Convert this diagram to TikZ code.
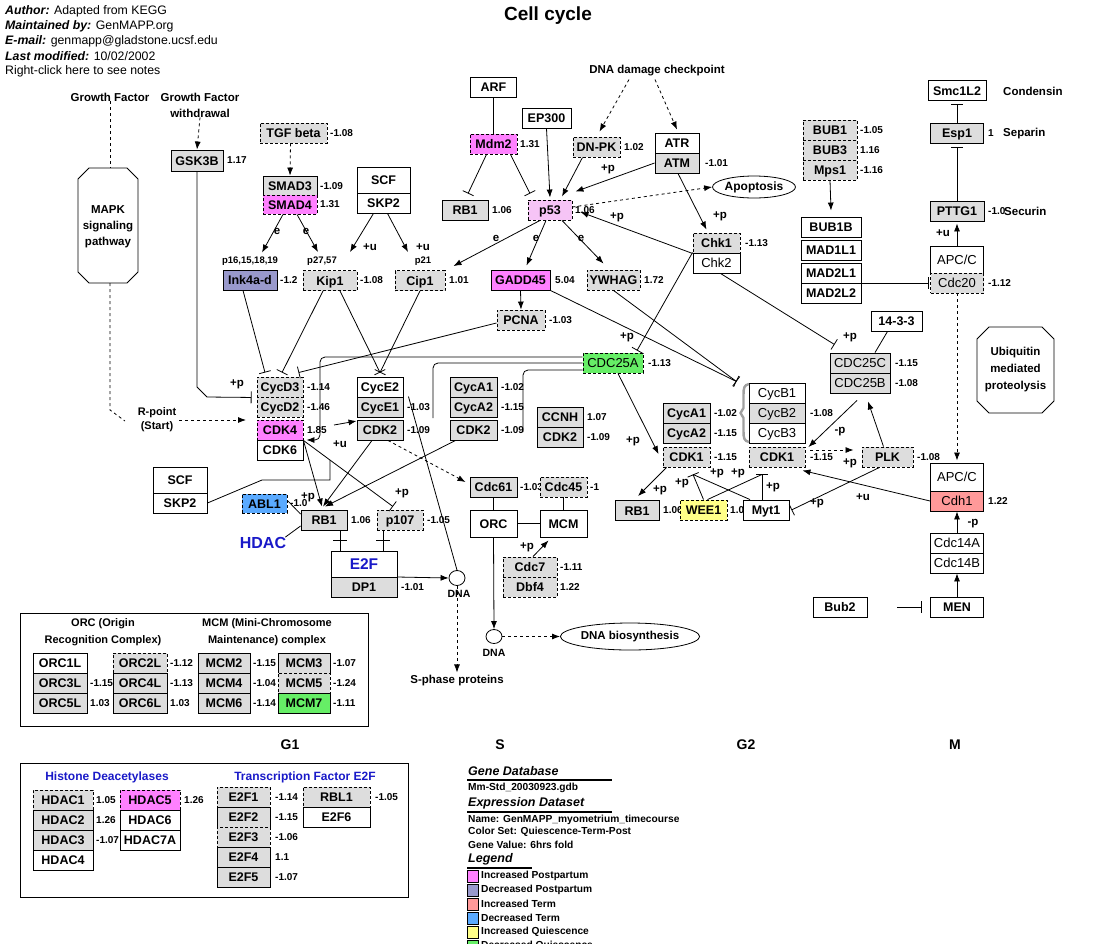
\documentclass[tikz,border=0pt]{standalone}
\usepackage{fontspec}
\setmainfont{Liberation Sans}
\usetikzlibrary{arrows.meta,shapes.geometric}
\definecolor{gfill}{RGB}{221,221,221}
\definecolor{mag}{RGB}{255,128,255}
\definecolor{pk}{RGB}{246,196,246}
\definecolor{pur}{RGB}{153,153,204}
\definecolor{salm}{RGB}{255,153,153}
\definecolor{blu}{RGB}{90,170,255}
\definecolor{yel}{RGB}{255,255,136}
\definecolor{grn}{RGB}{102,238,102}
\definecolor{hblue}{RGB}{25,25,200}
\definecolor{brk}{RGB}{160,160,160}
\newcommand{\GeneFont}{\fontsize{12.5}{14}\selectfont\bfseries}
\newcommand{\GeneReg}{\fontsize{13}{14}\selectfont\mdseries}
\newcommand{\ValFont}{\fontsize{10}{11}\selectfont\bfseries}
\newcommand{\LabFont}{\fontsize{11.5}{16}\selectfont\bfseries}
\newcommand{\SmallLab}{\fontsize{9.5}{11}\selectfont\bfseries}
\newcommand{\HeadFont}{\fontsize{12.3}{14}\selectfont}
\newcommand{\GrpFont}{\fontsize{11}{17}\selectfont\bfseries}
\newcommand{\BlueHead}{\fontsize{12}{14}\selectfont\bfseries}
\newcommand{\LegHead}{\fontsize{12.5}{14}\selectfont\bfseries\itshape}
\newcommand{\LegText}{\fontsize{10.2}{11}\selectfont\bfseries}
\newcommand{\PhaseFont}{\fontsize{14}{16}\selectfont\bfseries}
\tikzset{
  gb/.style={draw=black, line width=0.9pt, fill=gfill, inner sep=0pt, minimum height=20pt, text height=9pt, text depth=0pt, font=\GeneFont},
  wb/.style={gb, fill=white},
  dsh/.style={dash pattern=on 3pt off 2pt},
  rg/.style={font=\GeneReg},
  val/.style={font=\ValFont, anchor=west, inner sep=0pt},
  plab/.style={font=\LabFont, inner sep=0pt},
  con/.style={line width=0.8pt},
  act/.style={con, -{Latex[length=8pt,width=6pt]}},
  inh/.style={con, -{Bar[width=12pt]}},
  dact/.style={act, dash pattern=on 3pt off 3pt},
  dline/.style={con, dash pattern=on 3pt off 3pt},
  legsq/.style={draw=black, line width=0.8pt, minimum width=11pt, minimum height=12pt, inner sep=0pt},
}
\begin{document}
\begin{tikzpicture}[x=1pt,y=-1pt]
\useasboundingbox[fill=white] (0,0) rectangle (1094,943);

% ---------------- header ----------------
\node[anchor=west,font=\HeadFont,inner sep=0pt] (h1) at (5,11) {\textbf{\textit{Author:}} Adapted from KEGG};
\node[anchor=west,font=\HeadFont,inner sep=0pt] (h2) at (5,26) {\textbf{\textit{Maintained by:}} GenMAPP.org};
\node[anchor=west,font=\HeadFont,inner sep=0pt] (h3) at (5,41) {\textbf{\textit{E-mail:}} genmapp@gladstone.ucsf.edu};
\node[anchor=west,font=\HeadFont,inner sep=0pt] (h4) at (5,56) {\textbf{\textit{Last modified:}} 10/02/2002};
\node[anchor=west,font=\HeadFont,inner sep=0pt] (h5) at (5,71) {Right-click here to see notes};
\node[font=\fontsize{19}{22}\selectfont\bfseries] (title) at (548,16) {Cell cycle};

% ---------------- top-left ----------------
\node[plab] (gf) at (110,97) {Growth Factor};
\node[plab,align=center] (gfw) at (200,105) {Growth Factor\\withdrawal};
\draw[line width=0.9pt] (78,179) -- (89,168) -- (127,168) -- (138,179) -- (138,272) -- (127,283) -- (89,283) -- (78,272) -- cycle;
\node[plab,align=center] (mapk) at (108,227) {MAPK\\signaling\\pathway};
\coordinate (mapkN) at (110,168);
\coordinate (mapkS) at (110,283);
\node[plab,align=center,font=\fontsize{11}{14}\selectfont\bfseries] (rpoint) at (157,420) {R-point\\(Start)};
\coordinate (rpEnd) at (246,420);

\node[gb,minimum width=52pt,minimum height=21pt] (gsk) at (197,160.5) {GSK3B};
\node[val] at (227,160.5) {1.17};
\node[gb,dsh,minimum width=67pt] (tgf) at (293.5,133) {TGF beta};
\node[val] at (330,133) {-1.08};
\node[gb,minimum width=54pt,minimum height=19pt] (smad3) at (290,185.5) {SMAD3};
\node[gb,dsh,fill=mag,minimum width=54pt,minimum height=19pt] (smad4) at (290,204.5) {SMAD4};
\node[val] at (320,186) {-1.09};
\node[val] at (320,204.5) {1.31};
\node[wb,minimum width=53pt,minimum height=26pt] (scf1) at (383.5,180) {SCF};
\node[wb,minimum width=53pt] (skp2a) at (383.5,203) {SKP2};
\node[font=\SmallLab] at (250,261) {p16,15,18,19};
\node[font=\SmallLab] at (322,261) {p27,57};
\node[font=\SmallLab] at (423,261) {p21};
\node[gb,fill=pur,minimum width=54pt] (ink) at (250,280) {Ink4a-d};
\node[val] at (280,280) {-1.2};
\node[gb,dsh,minimum width=54pt] (kip1) at (330,280.5) {Kip1};
\node[val] at (360,280.5) {-1.08};
\node[gb,dsh,minimum width=50pt] (cip1) at (420,280.5) {Cip1};
\node[val] at (449,280.5) {1.01};

% ---------------- p53 area ----------------
\node[wb,minimum width=46pt] (arf) at (493.5,87) {ARF};
\node[gb,dsh,fill=mag,minimum width=47pt] (mdm2) at (493.5,144) {Mdm2};
\node[val] at (520,144) {1.31};
\node[gb,minimum width=46pt] (rb1a) at (465,210) {RB1};
\node[val] at (492,210) {1.06};
\node[gb,dsh,fill=pk,minimum width=44pt] (p53) at (550,210) {p53};
\node[val] at (575,210) {1.06};
\node[wb,minimum width=49pt] (ep300) at (546.5,118) {EP300};
\node[gb,dsh,minimum width=47pt] (dnpk) at (596.5,147) {DN-PK};
\node[val] at (624,147) {1.02};
\node[plab,inner sep=3pt] (dnadmg) at (657,71) {DNA damage checkpoint};
\node[wb,minimum width=44pt] (atr) at (677,143) {ATR};
\node[gb,minimum width=44pt] (atm) at (677,163) {ATM};
\node[val] at (705,163) {-1.01};
\node[draw,ellipse,line width=0.8pt,minimum width=82pt,minimum height=22pt,inner sep=0pt,font=\fontsize{12}{14}\selectfont\bfseries] (apop) at (754,187) {Apoptosis};
\node[gb,dsh,minimum width=47pt] (chk1) at (716.5,243) {Chk1};
\node[wb,rg,minimum width=47pt] (chk2) at (716.5,263) {Chk2};
\node[val] at (745,243) {-1.13};
\node[gb,fill=mag,minimum width=59pt] (gadd45) at (520.5,280) {GADD45};
\node[val] at (555,280) {5.04};
\node[gb,dsh,minimum width=53pt] (ywhag) at (613.5,280) {YWHAG};
\node[val] at (644,280) {1.72};
\node[gb,dsh,minimum width=48pt] (pcna) at (521,320) {PCNA};
\node[val] at (549,320) {-1.03};

% ---------------- G1 complexes ----------------
\node[gb,dsh,minimum width=46pt] (cycd3) at (280,387) {CycD3};
\node[gb,dsh,minimum width=46pt] (cycd2) at (280,407) {CycD2};
\node[gb,dsh,fill=mag,minimum width=46pt] (cdk4) at (280,430) {CDK4};
\node[wb,minimum width=46pt] (cdk6) at (280,450) {CDK6};
\node[val] at (307,387) {-1.14};
\node[val] at (307,407) {-1.46};
\node[val] at (307,430) {1.85};
\node[wb,minimum width=46pt] (cyce2) at (380,387) {CycE2};
\node[gb,minimum width=46pt] (cyce1) at (380,407) {CycE1};
\node[gb,minimum width=46pt] (cdk2a) at (380,430) {CDK2};
\node[val] at (407,407) {-1.03};
\node[val] at (407,430) {-1.09};
\node[gb,minimum width=47pt] (cyca1a) at (473.5,387) {CycA1};
\node[gb,minimum width=47pt] (cyca2a) at (473.5,407) {CycA2};
\node[gb,minimum width=47pt] (cdk2b) at (473.5,430) {CDK2};
\node[val] at (501,387) {-1.02};
\node[val] at (501,407) {-1.15};
\node[val] at (501,430) {-1.09};
\node[gb,minimum width=46pt] (ccnh) at (560,417) {CCNH};
\node[gb,minimum width=46pt] (cdk2c) at (560,437) {CDK2};
\node[val] at (587,417) {1.07};
\node[val] at (587,437) {-1.09};
\node[gb,dsh,rg,fill=grn,minimum width=60pt] (cdc25a) at (613,363) {CDC25A};
\node[val] at (648,363) {-1.13};

\node[wb,minimum width=54pt,minimum height=26pt] (scf2) at (180,480) {SCF};
\node[wb,minimum width=54pt] (skp2b) at (180,503) {SKP2};
\node[gb,dsh,fill=blu,minimum width=45pt,minimum height=19pt] (abl1) at (264.5,503.5) {ABL1};
\node[val] at (290,503.5) {-1.0};
\node[font=\fontsize{16}{18}\selectfont\bfseries,text=hblue,inner sep=1pt] (hdac) at (263,543) {HDAC};
\node[gb,minimum width=46pt] (rb1b) at (324,520) {RB1};
\node[val] at (351,520) {1.06};
\node[gb,dsh,minimum width=46pt] (p107) at (400,520) {p107};
\node[val] at (427,520) {-1.05};
\node[wb,minimum width=66pt,minimum height=26pt,font=\fontsize{15.5}{17}\selectfont\bfseries,text=hblue,text height=11pt] (e2f) at (364,564) {E2F};
\node[gb,minimum width=66pt] (dp1) at (364,587) {DP1};
\node[val] at (401,587) {-1.01};
\node[draw,ellipse,line width=0.8pt,minimum width=16pt,minimum height=15pt,inner sep=0pt] (dna1) at (457,578) {};
\node[font=\fontsize{10.5}{12}\selectfont\bfseries] (dnal1) at (459,594) {DNA};
\node[plab] (sphase) at (457,681) {S-phase proteins};

% ---------------- S complexes ----------------
\node[gb,minimum width=47pt] (cdc61) at (493.5,487) {Cdc61};
\node[val] at (520,487) {-1.03};
\node[gb,dsh,minimum width=47pt] (cdc45) at (563.5,487) {Cdc45};
\node[val] at (590,487) {-1};
\node[wb,minimum width=47pt,minimum height=27pt] (orc) at (493.5,523.5) {ORC};
\node[wb,minimum width=47pt,minimum height=27pt] (mcm) at (563.5,523.5) {MCM};
\node[gb,dsh,minimum width=54pt] (cdc7) at (530,567) {Cdc7};
\node[gb,dsh,minimum width=54pt] (dbf4) at (530,587) {Dbf4};
\node[val] at (560,567) {-1.11};
\node[val] at (560,587) {1.22};
\node[draw,ellipse,line width=0.8pt,minimum width=16pt,minimum height=14pt,inner sep=0pt] (dna2) at (494,636.5) {};
\node[font=\fontsize{10.5}{12}\selectfont\bfseries] (dnal2) at (494,653) {DNA};
\node[draw,ellipse,line width=0.8pt,minimum width=114pt,minimum height=27pt,inner sep=0pt,font=\LabFont] (dnabio) at (630,636.5) {DNA biosynthesis};

% ---------------- G2 complexes ----------------
\node[gb,minimum width=47pt] (cyca1b) at (686.5,413) {CycA1};
\node[gb,minimum width=47pt] (cyca2b) at (686.5,433) {CycA2};
\node[gb,dsh,minimum width=47pt] (cdk1a) at (686.5,457) {CDK1};
\node[val] at (714,413) {-1.02};
\node[val] at (714,433) {-1.15};
\node[val] at (714,457) {-1.15};
\node[wb,rg,minimum width=56pt] (cycb1) at (777,393) {CycB1};
\node[gb,rg,minimum width=56pt] (cycb2) at (777,413) {CycB2};
\node[wb,rg,minimum width=56pt] (cycb3) at (777,433) {CycB3};
\node[gb,dsh,minimum width=56pt] (cdk1b) at (777,457) {CDK1};
\node[val] at (810,413) {-1.08};
\node[val] at (810,457) {-1.15};
\draw[brk,line width=2.4pt] (749,384) .. controls (744,385) and (743.5,388) .. (743.5,395) -- (743.5,408) -- (740.5,413) -- (743.5,418) -- (743.5,431) .. controls (743.5,438) and (744,441) .. (749,442);
\node[gb,minimum width=44pt] (rb1c) at (637,510.5) {RB1};
\node[val] at (663,510.5) {1.06};
\node[gb,dsh,fill=yel,minimum width=47pt] (wee1) at (703.5,510) {WEE1};
\node[val] at (730,510) {1.0};
\node[wb,minimum width=46pt] (myt1) at (766,510) {Myt1};
\node[gb,rg,minimum width=60pt] (cdc25c) at (860,363) {CDC25C};
\node[gb,rg,minimum width=60pt] (cdc25b) at (860,383) {CDC25B};
\node[val] at (895,363) {-1.15};
\node[val] at (895,383) {-1.08};
\node[wb,minimum width=51pt] (t1433) at (896.5,321) {14-3-3};
\node[gb,dsh,minimum width=51pt] (plk) at (887.5,457) {PLK};
\node[val] at (917,457) {-1.08};

% ---------------- M / right column ----------------
\node[wb,minimum width=58pt] (smc) at (957,90.5) {Smc1L2};
\node[plab,anchor=west] at (1003,91) {Condensin};
\node[gb,minimum width=53pt] (esp1) at (957,133) {Esp1};
\node[val] at (988,133) {1};
\node[plab,anchor=west] at (1003,134) {Separin};
\node[gb,minimum width=54pt] (pttg1) at (957,211) {PTTG1};
\node[val] at (988,211) {-1.0};
\node[plab,anchor=west] at (1004,211) {Securin};
\node[wb,rg,minimum width=53pt,minimum height=27pt] (apc1) at (957,259.5) {APC/C};
\node[gb,dsh,rg,minimum width=53pt] (cdc20) at (957,283) {Cdc20};
\node[val] at (988,283) {-1.12};
\node[gb,dsh,minimum width=54pt] (bub1) at (830,130) {BUB1};
\node[gb,dsh,minimum width=54pt] (bub3) at (830,150) {BUB3};
\node[gb,dsh,minimum width=54pt] (mps1) at (830,170) {Mps1};
\node[val] at (860,130) {-1.05};
\node[val] at (860,150) {1.16};
\node[val] at (860,170) {-1.16};
\node[wb,minimum width=60pt] (bub1b) at (831,227) {BUB1B};
\node[wb,minimum width=60pt] (mad1l1) at (831,250) {MAD1L1};
\node[wb,minimum width=60pt] (mad2l1) at (831,273) {MAD2L1};
\node[wb,minimum width=60pt] (mad2l2) at (831,293) {MAD2L2};
\draw[line width=0.9pt] (977,339) -- (989,327) -- (1042,327) -- (1054,339) -- (1054,401) -- (1042,413) -- (989,413) -- (977,401) -- cycle;
\node[plab,align=center,font=\fontsize{11.5}{17}\selectfont\bfseries] (ubiq) at (1015.5,370) {Ubiquitin\\mediated\\proteolysis};
\node[wb,rg,minimum width=53pt,minimum height=28pt] (apc2) at (957,477) {APC/C};
\node[gb,rg,fill=salm,minimum width=53pt] (cdh1) at (957,501) {Cdh1};
\node[val] at (988,501) {1.22};
\node[wb,rg,minimum width=53pt] (cdc14a) at (957,543) {Cdc14A};
\node[wb,rg,minimum width=53pt] (cdc14b) at (957,563) {Cdc14B};
\node[wb,minimum width=53pt] (men) at (957,607) {MEN};
\node[wb,minimum width=54pt] (bub2) at (840,607) {Bub2};

% ---------------- connectors: top-left ----------------
\draw[dline] (gf.south) -- (mapkN);
\draw[dline] (mapkS) -- (110,410) -- (125,421);
\draw[dact] ([xshift=3pt]rpoint.east) -- (rpEnd);
\draw[dact] (gfw.south) -- (gsk.north);
\draw[inh] (gsk.south) -- (197,387) -- (207,397) -- ([xshift=-5pt]cycd3.south west);
\draw[dact] ([xshift=-3pt]tgf.south) -- (smad3.north);
\draw[act] ([xshift=-7pt]smad4.south) -- ([xshift=12pt,yshift=17pt]ink.north);
\draw[act] ([xshift=7pt]smad4.south) -- ([xshift=-12pt,yshift=18pt]kip1.north);
\draw[act] ([xshift=-10pt]skp2a.south) -- ([xshift=20pt,yshift=18pt]kip1.north);
\draw[act] ([xshift=4pt]skp2a.south) -- ([xshift=-12pt,yshift=18pt]cip1.north);

% ---------------- connectors: p53 ----------------
\draw[con] (arf.south) -- (mdm2.north);
\draw[inh] ([xshift=-7pt]mdm2.south) -- ([xshift=3pt,yshift=6pt]rb1a.north);
\draw[inh] ([xshift=17pt]mdm2.south) -- ([xshift=-20pt,yshift=6pt]p53.north);
\draw[act] (ep300.south) -- ([yshift=2pt]p53.north);
\draw[act] ([xshift=-14pt]dnpk.south) -- ([xshift=12pt,yshift=3pt]p53.north);
\draw[act] (atm.west) -- ([xshift=3pt,yshift=8pt]p53.north east);
\draw[act] ([xshift=1pt]atm.south) -- ([xshift=-10pt,yshift=3pt]chk1.north);
\draw[dact] ([xshift=-28pt]dnadmg.south) -- ([xshift=3pt,yshift=5pt]dnpk.north);
\draw[dact] ([xshift=-2pt]dnadmg.south) -- ([yshift=3pt]atr.north);
\draw[dact] ([yshift=3pt]p53.east) -- (apop.west);
\draw[act] (chk1.south west) -- ([xshift=8pt,yshift=-2pt]p53.east);
\draw[inh] ([yshift=1pt]chk1.south west) -- ([xshift=24pt,yshift=2pt]cdc25a.north);
\draw[inh] ([xshift=4pt]chk2.south) -- ([xshift=5pt,yshift=8pt]cdc25c.north west);
\draw[act] ([xshift=-10pt]p53.south) -- ([xshift=8pt,yshift=4pt]cip1.north east);
\draw[act] ([xshift=-4pt]p53.south) -- ([xshift=6pt,yshift=4pt]gadd45.north);
\draw[act] ([xshift=12pt]p53.south) -- ([xshift=-10pt,yshift=6pt]ywhag.north);
\draw[act] (gadd45.south) -- (pcna.north);
\draw[inh] (gadd45.south east) -- ([xshift=-12pt,yshift=1pt]cycb1.north west);
\draw[inh] (ywhag.south) -- ([xshift=-12pt,yshift=1pt]cycb1.north west);

% ---------------- connectors: G1 ----------------
\draw[inh] ([yshift=-3pt]pcna.west) -- ([xshift=-5pt,yshift=4pt]cycd3.north east);
\draw[inh] ([xshift=-7pt]ink.south) -- ([xshift=-15pt,yshift=4pt]cycd3.north);
\draw[inh] ([xshift=-7pt]kip1.south) -- ([xshift=2pt,yshift=4pt]cycd3.north);
\draw[inh] ([xshift=10pt]kip1.south) -- ([yshift=4pt]cyce2.north);
\draw[inh] (cip1.south) -- ([yshift=4pt]cyce2.north);
\coordinate (c25e2) at (433,418);
\coordinate (c25a2) at (523,432);
\draw[act,rounded corners=5pt] ([yshift=6pt]cdc25a.west) -- (320,357) -- (320,440) -- ([xshift=3pt,yshift=-10pt]cdk4.east);
\draw[con,rounded corners=5pt] (cdc25a.west) -- (433,363) -- (c25e2);
\draw[con,rounded corners=5pt] ([yshift=-7pt]cdc25a.west) -- (523,370) -- (c25a2);
\draw[act] ([xshift=5pt]cdc25a.south) -- ([xshift=-4pt,yshift=3pt]cdk1a.west);
\coordinate (skpA) at (330,460);
\coordinate (skpB) at (334,425);
\draw[con] (skp2b.east) -- (262,480) -- (330,480) -- (skpA);
\draw[act] (skpB) -- ([yshift=9pt]cdk2a.west);
\draw[act] (cdk4.south east) -- ([xshift=-2pt,yshift=3pt]rb1b.north);
\draw[inh] (cdk4.south east) -- ([xshift=-7pt,yshift=3pt]p107.north);
\draw[act] ([xshift=-8pt]cdk2a.south) -- ([xshift=-1pt,yshift=3pt]rb1b.north);
\draw[act] ([xshift=-18pt]cdk2b.south) -- ([xshift=1pt,yshift=3pt]rb1b.north);
\draw[dact] ([xshift=8pt]cdk2a.south) -- ([xshift=-4pt,yshift=5pt]cdc61.west);
\draw[con] ([xshift=5pt]cyce1.north east) -- (dna1.north);
\draw[con] ([yshift=3pt]abl1.east) -- ([yshift=6pt]rb1b.west);
\draw[con] ([xshift=-2pt,yshift=-1pt]hdac.north east) -- ([yshift=-6pt]rb1b.west);
\draw[con] ([xshift=16pt]rb1b.south) -- ([xshift=-24pt]e2f.north);
\draw[con] (333,540) -- (347,540);
\draw[con] ([xshift=-17pt]p107.south) -- ([xshift=19pt]e2f.north);
\draw[con] (376,540) -- (390,540);
\draw[act] ([yshift=10pt]dp1.east) -- (dna1.west);
\draw[dact] (dna1.south) -- ([yshift=3pt]sphase.north);

% ---------------- connectors: S ----------------
\draw[con] (cdc61.south) -- (orc.north);
\draw[con] (cdc45.south) -- (mcm.north);
\draw[con] (orc.east) -- (mcm.west);
\draw[act] ([xshift=3pt]cdc7.north) -- ([xshift=-15pt,yshift=-3pt]mcm.south);
\draw[act] (orc.south) -- (dna2.north);
\draw[dact] (dna2.east) -- (dnabio.west);

% ---------------- connectors: G2 ----------------
\draw[act] ([xshift=-20pt]cdk1a.south) -- ([xshift=1pt,yshift=4pt]rb1c.north);
\draw[inh] (wee1.north) -- ([xshift=6.5pt,yshift=-7pt]cdk1a.south);
\draw[con] ([xshift=-16pt]myt1.north) -- ([xshift=6.5pt,yshift=-7pt]cdk1a.south);
\draw[con] ([xshift=4pt]wee1.north) -- ([xshift=-15pt,yshift=-7pt]cdk1b.south);
\draw[inh] ([xshift=-4pt]myt1.north) -- ([xshift=-15pt,yshift=-7pt]cdk1b.south);
\draw[inh] ([xshift=-8pt]plk.south) -- ([xshift=2pt]myt1.east);
\draw[act] (cdh1.west) -- ([xshift=-3pt,yshift=-3pt]cdk1b.south east);
\draw[dact] ([xshift=5pt,yshift=7pt]cdk1b.east) -- ([xshift=-8pt,yshift=7pt]plk.west);
\draw[act] ([xshift=-3pt,yshift=-7pt]cdc25b.south) -- ([xshift=3pt,yshift=10pt]cdk1b.east);
\draw[act] ([xshift=-4pt]plk.north) -- ([xshift=8pt,yshift=-8pt]cdc25b.south);
\draw[con] ([xshift=-9pt]t1433.south) -- ([xshift=15pt]cdc25c.north);

% ---------------- connectors: M ----------------
\draw[inh] (esp1.north) -- ([yshift=-3pt]smc.south);
\draw[inh] (pttg1.north) -- ([yshift=-4pt]esp1.south);
\draw[act] (apc1.north) -- ([yshift=-2pt]pttg1.south);
\draw[act] (mps1.south) -- ([yshift=6pt]bub1b.north);
\draw[inh] ([yshift=10pt]mad2l2.east) -- ([xshift=-1pt]cdc20.west);
\draw[dact] (cdc20.south) -- ([yshift=2pt]apc2.north);
\draw[act] (cdc14a.north) -- (cdh1.south);
\draw[act] (men.north) -- (cdc14b.south);
\draw[inh] ([xshift=30pt]bub2.east) -- ([xshift=-8pt]men.west);

% ---------------- edge labels ----------------
\node[plab] at (237,384) {+p};
\node[plab] at (277,231) {e};
\node[plab] at (306,231) {e};
\node[plab] at (370,247) {+u};
\node[plab] at (423,247) {+u};
\node[plab] at (496,238) {e};
\node[plab] at (536,238) {e};
\node[plab] at (581,238) {e};
\node[plab] at (608,169) {+p};
\node[plab] at (720,216) {+p};
\node[plab] at (617,217) {+p};
\node[plab] at (627,337) {+p};
\node[plab] at (850,337) {+p};
\node[plab] at (340,444) {+u};
\node[plab] at (308,497) {+p};
\node[plab] at (402,493) {+p};
\node[plab] at (633,441) {+p};
\node[plab] at (660,490) {+p};
\node[plab] at (682,483) {+p};
\node[plab] at (717,473) {+p};
\node[plab] at (738,473) {+p};
\node[plab] at (773,487) {+p};
\node[plab] at (817,503) {+p};
\node[plab] at (863,497) {+u};
\node[plab] at (850,463) {+p};
\node[plab] at (840,432) {-p};
\node[plab] at (943,233) {+u};
\node[plab] at (973,524) {-p};
\node[plab] at (527,547) {+p};

% ---------------- phases ----------------
\node[font=\PhaseFont] at (290,745) {G1};
\node[font=\PhaseFont] at (500,745) {S};
\node[font=\PhaseFont] at (746,745) {G2};
\node[font=\PhaseFont] at (955,745) {M};

% ---------------- ORC / MCM box ----------------
\draw[line width=1pt] (20,613) rectangle (368,726);
\node[font=\GrpFont,align=center] at (103,632) {ORC (Origin\\Recognition Complex)};
\node[font=\GrpFont,align=center] at (267,632) {MCM (Mini-Chromosome\\Maintenance) complex};
\node[wb,minimum width=54pt] (orc1l) at (60,663) {ORC1L};
\node[gb,minimum width=54pt] (orc3l) at (60,683) {ORC3L};
\node[gb,minimum width=54pt] (orc5l) at (60,703) {ORC5L};
\node[val] at (90,683) {-1.15};
\node[val] at (90,703) {1.03};
\node[gb,dsh,minimum width=54pt] (orc2l) at (140,663) {ORC2L};
\node[gb,minimum width=54pt] (orc4l) at (140,683) {ORC4L};
\node[gb,minimum width=54pt] (orc6l) at (140,703) {ORC6L};
\node[val] at (170,663) {-1.12};
\node[val] at (170,683) {-1.13};
\node[val] at (170,703) {1.03};
\node[gb,minimum width=52pt] (mcm2) at (224,663) {MCM2};
\node[gb,minimum width=52pt] (mcm4) at (224,683) {MCM4};
\node[gb,minimum width=52pt] (mcm6) at (224,703) {MCM6};
\node[val] at (253,663) {-1.15};
\node[val] at (253,683) {-1.04};
\node[val] at (253,703) {-1.14};
\node[gb,minimum width=52pt] (mcm3) at (304,663) {MCM3};
\node[gb,dsh,minimum width=52pt] (mcm5) at (304,683) {MCM5};
\node[gb,fill=grn,minimum width=52pt] (mcm7) at (304,703) {MCM7};
\node[val] at (333,663) {-1.07};
\node[val] at (333,683) {-1.24};
\node[val] at (333,703) {-1.11};

% ---------------- HDAC / E2F box ----------------
\draw[line width=1pt] (20,763) rectangle (408,897);
\node[font=\BlueHead,text=hblue] at (107,777) {Histone Deacetylases};
\node[font=\BlueHead,text=hblue] at (305,777) {Transcription Factor E2F};
\node[gb,dsh,minimum width=60pt] (hdac1) at (63,800) {HDAC1};
\node[gb,minimum width=60pt] (hdac2) at (63,820) {HDAC2};
\node[gb,minimum width=60pt] (hdac3) at (63,840) {HDAC3};
\node[wb,minimum width=60pt] (hdac4) at (63,860) {HDAC4};
\node[val] at (96,800) {1.05};
\node[val] at (96,820) {1.26};
\node[val] at (96,840) {-1.07};
\node[gb,dsh,fill=mag,minimum width=60pt] (hdac5) at (150,800) {HDAC5};
\node[wb,minimum width=60pt] (hdac6) at (150,820) {HDAC6};
\node[wb,minimum width=60pt] (hdac7a) at (150,840) {HDAC7A};
\node[val] at (184,800) {1.26};
\node[gb,dsh,minimum width=53pt] (e2f1) at (243.5,797) {E2F1};
\node[gb,minimum width=53pt] (e2f2) at (243.5,817) {E2F2};
\node[gb,dsh,minimum width=53pt] (e2f3) at (243.5,837) {E2F3};
\node[gb,minimum width=53pt] (e2f4) at (243.5,857) {E2F4};
\node[gb,minimum width=53pt] (e2f5) at (243.5,877) {E2F5};
\node[val] at (275,797) {-1.14};
\node[val] at (275,817) {-1.15};
\node[val] at (275,837) {-1.06};
\node[val] at (275,857) {1.1};
\node[val] at (275,877) {-1.07};
\node[gb,dsh,minimum width=67pt] (rbl1) at (336.5,797) {RBL1};
\node[wb,minimum width=67pt] (e2f6) at (336.5,817) {E2F6};
\node[val] at (375,797) {-1.05};

% ---------------- legend ----------------
\node[anchor=west,font=\LegHead,inner sep=0pt] at (468,771) {Gene Database};
\draw[line width=2pt] (467,779.5) -- (612,779.5);
\node[anchor=west,font=\LegText,inner sep=0pt] at (468,788) {Mm-Std\_20030923.gdb};
\node[anchor=west,font=\LegHead,inner sep=0pt] at (468,803) {Expression Dataset};
\draw[line width=2pt] (467,811.5) -- (612,811.5);
\node[anchor=west,font=\LegText,inner sep=0pt] at (468,820) {Name: GenMAPP\_myometrium\_timecourse};
\node[anchor=west,font=\LegText,inner sep=0pt] at (468,832) {Color Set: Quiescence-Term-Post};
\node[anchor=west,font=\LegText,inner sep=0pt] at (468,845) {Gene Value: 6hrs fold};
\node[anchor=west,font=\LegHead,inner sep=0pt] at (468,859) {Legend};
\draw[line width=2pt] (467,867.5) -- (532,867.5);
\node[legsq,fill=mag] (lq1) at (473,876) {};
\node[anchor=west,font=\LegText,inner sep=0pt] at (481,876) {Increased Postpartum};
\node[legsq,fill=pur] (lq2) at (473,890) {};
\node[anchor=west,font=\LegText,inner sep=0pt] at (481,890) {Decreased Postpartum};
\node[legsq,fill=salm] (lq3) at (473,904) {};
\node[anchor=west,font=\LegText,inner sep=0pt] at (481,904) {Increased Term};
\node[legsq,fill=blu] (lq4) at (473,918) {};
\node[anchor=west,font=\LegText,inner sep=0pt] at (481,918) {Decreased Term};
\node[legsq,fill=yel] (lq5) at (473,932) {};
\node[anchor=west,font=\LegText,inner sep=0pt] at (481,932) {Increased Quiescence};
\node[legsq,fill=grn] (lq6) at (473,946) {};
\node[anchor=west,font=\LegText,inner sep=0pt] at (481,946) {Decreased Quiescence};
\end{tikzpicture}
\end{document}
